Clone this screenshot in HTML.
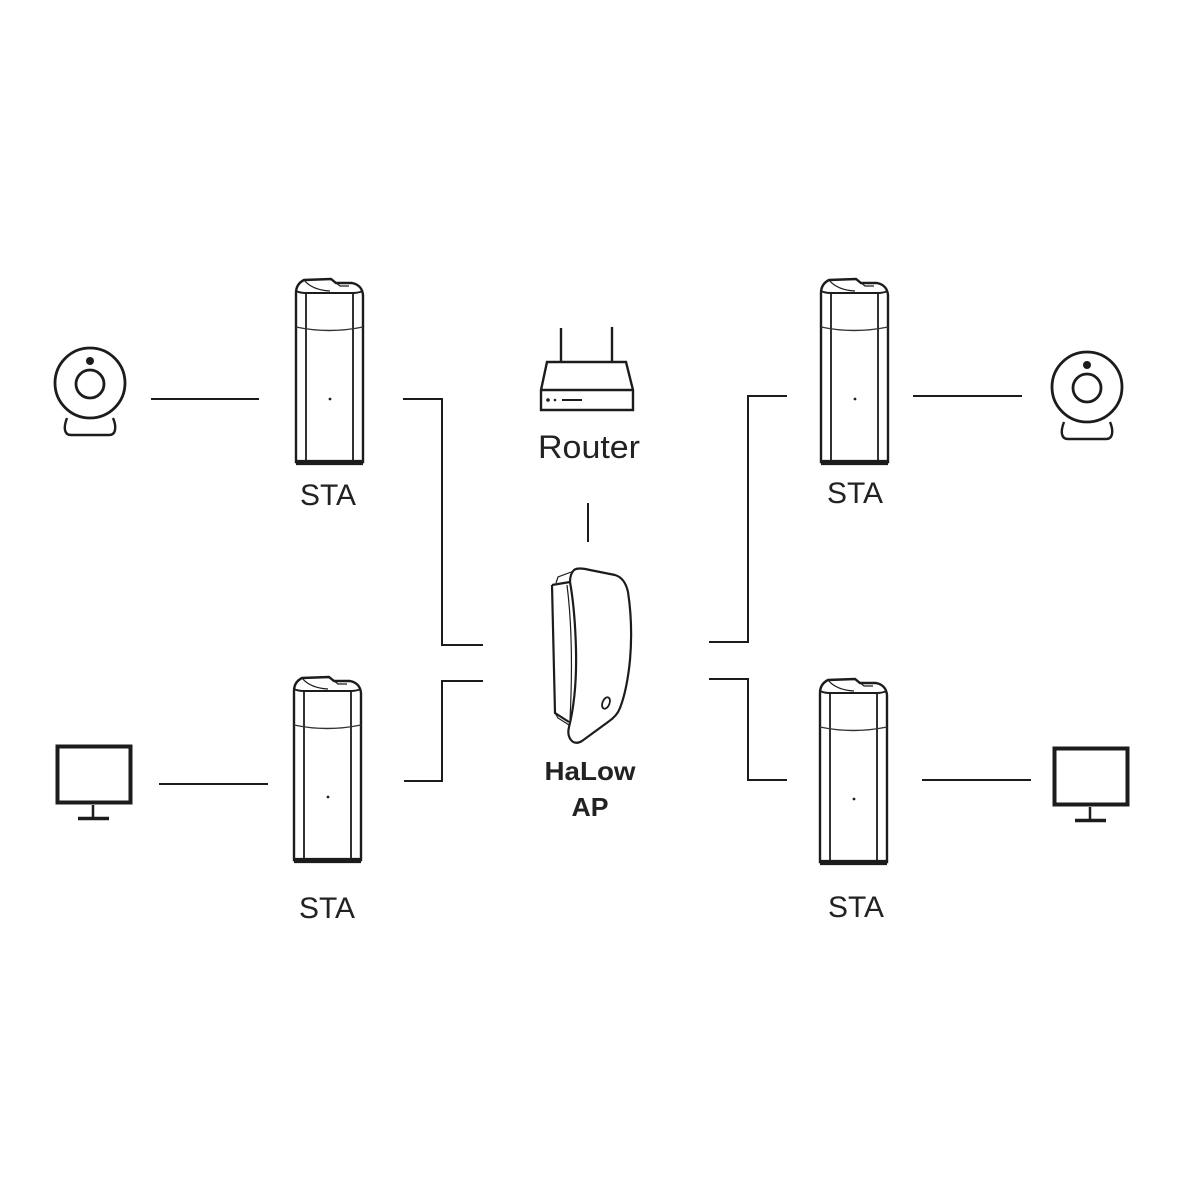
<!DOCTYPE html>
<html>
<head>
<meta charset="utf-8">
<style>
html,body{margin:0;padding:0;background:#fff;width:1200px;height:1200px;overflow:hidden}
svg{display:block}
text{font-family:"Liberation Sans",sans-serif;fill:#222;text-anchor:middle}
.l{fill:none;stroke:#1c1c1c;stroke-width:2}
</style>
</head>
<body>
<svg width="1200" height="1200" viewBox="0 0 1200 1200" xmlns="http://www.w3.org/2000/svg">
<rect width="1200" height="1200" fill="#fff"/>
<defs>
<g id="sta" fill="none" stroke="#1c1c1c">
  <path d="M296 462 V293 Q296 284 304 280 L331 279 L336 283 H352 Q362 285 363 295 V462 Z" stroke-width="2.4"/>
  <path d="M296 291 Q300 293 306 293 H353 Q358 293 363 291" stroke-width="2"/>
  <path d="M306 293 V462 M353 293 V462" stroke-width="1.8"/>
  <path d="M296 327 Q329 334 363 327" stroke-width="1.4" stroke="#333"/>
  <path d="M296 461 H363 M296 464 H363" stroke-width="2.2"/>
  <path d="M304 280 Q312 290 330 291 M335 282 L340 286 H349" stroke-width="1.2"/>
  <circle cx="330" cy="399" r="1.4" fill="#222" stroke="none"/>
</g>
<g id="cam" fill="none" stroke="#1c1c1c">
  <circle cx="90" cy="383" r="35" stroke-width="2.8"/>
  <circle cx="90" cy="384" r="14" stroke-width="2.8"/>
  <circle cx="90" cy="361" r="4" fill="#1c1c1c" stroke="none"/>
  <path d="M67 418 Q64 426 65 430 Q66 435 71 435 H109 Q114 435 115 430 Q116 425 113 418" stroke-width="2.4"/>
</g>
<g id="mon" fill="none" stroke="#1c1c1c">
  <rect x="57.500" y="746.500" width="73" height="56" stroke-width="4"/>
  <path d="M93 805 V818" stroke-width="2.500"/>
  <path d="M78 818.500 H109" stroke-width="3.500"/>
</g>
</defs>

<!-- connectors -->
<path class="l" d="M151 399 H259"/>
<path class="l" d="M403 399 H442 V645 H483"/>
<path class="l" d="M483 681 H442 V781 H404"/>
<path class="l" d="M159 784 H268"/>
<path class="l" d="M588 503 V542"/>
<path class="l" d="M709 642 H748 V396 H787"/>
<path class="l" d="M913 396 H1022"/>
<path class="l" d="M709 679 H748 V780 H787"/>
<path class="l" d="M922 780 H1031"/>

<!-- stations -->
<use href="#sta"/>
<use href="#sta" transform="translate(525,0)"/>
<use href="#sta" transform="translate(-2,398)"/>
<use href="#sta" transform="translate(524,400)"/>

<!-- end devices -->
<use href="#cam"/>
<use href="#cam" transform="translate(997,4)"/>
<use href="#mon"/>
<use href="#mon" transform="translate(997,2)"/>

<!-- router -->
<g fill="none" stroke="#1c1c1c">
  <path d="M561 328 V362 M612 327 V362" stroke-width="2.400"/>
  <path d="M547 362 H626 L633 390 V410 H541 V390 Z" stroke-width="2.400"/>
  <path d="M541 390 H633" stroke-width="2.400"/>
  <circle cx="548" cy="400" r="1.800" fill="#1c1c1c" stroke="none"/>
  <circle cx="555" cy="400" r="1.300" fill="#1c1c1c" stroke="none"/>
  <path d="M562 400 H582" stroke-width="2"/>
</g>

<!-- AP -->
<g fill="none" stroke="#1c1c1c">
  <path d="M574 570 Q578 567 590 570 L615 575 Q625 578 628 592 Q633 625 630 660 Q627 690 620 708 Q617 716 608 722 L582 741 Q575 745 571 740 Q567 735 569 727 Q577 695 576 650 Q575 610 570 582 Q570 574 574 570 Z" stroke-width="2.200"/>
  <path d="M552 585 L570 582 M552 585 L555 713 L569 722" stroke-width="2.200"/>
  <path d="M556 583 L558 577 L574 571 M555 713 L558 718 L569 725" stroke-width="1.200"/>
  <path d="M567 585 Q574 640 570 720" stroke-width="1.200"/>
  <ellipse cx="606" cy="703" rx="3.500" ry="6" transform="rotate(22 606 703)" stroke-width="1.800"/>
</g>

<!-- labels -->
<text x="328" y="505" font-size="30" textLength="56" lengthAdjust="spacingAndGlyphs">STA</text>
<text x="855" y="503" font-size="30" textLength="56" lengthAdjust="spacingAndGlyphs">STA</text>
<text x="327" y="918" font-size="30" textLength="56" lengthAdjust="spacingAndGlyphs">STA</text>
<text x="856" y="917" font-size="30" textLength="56" lengthAdjust="spacingAndGlyphs">STA</text>
<text x="589" y="458" font-size="32" textLength="102" lengthAdjust="spacingAndGlyphs">Router</text>
<text x="590" y="780" font-size="26" font-weight="bold" textLength="91" lengthAdjust="spacingAndGlyphs">HaLow</text>
<text x="590" y="816" font-size="26" font-weight="bold" textLength="37" lengthAdjust="spacingAndGlyphs">AP</text>
</svg>
</body>
</html>
